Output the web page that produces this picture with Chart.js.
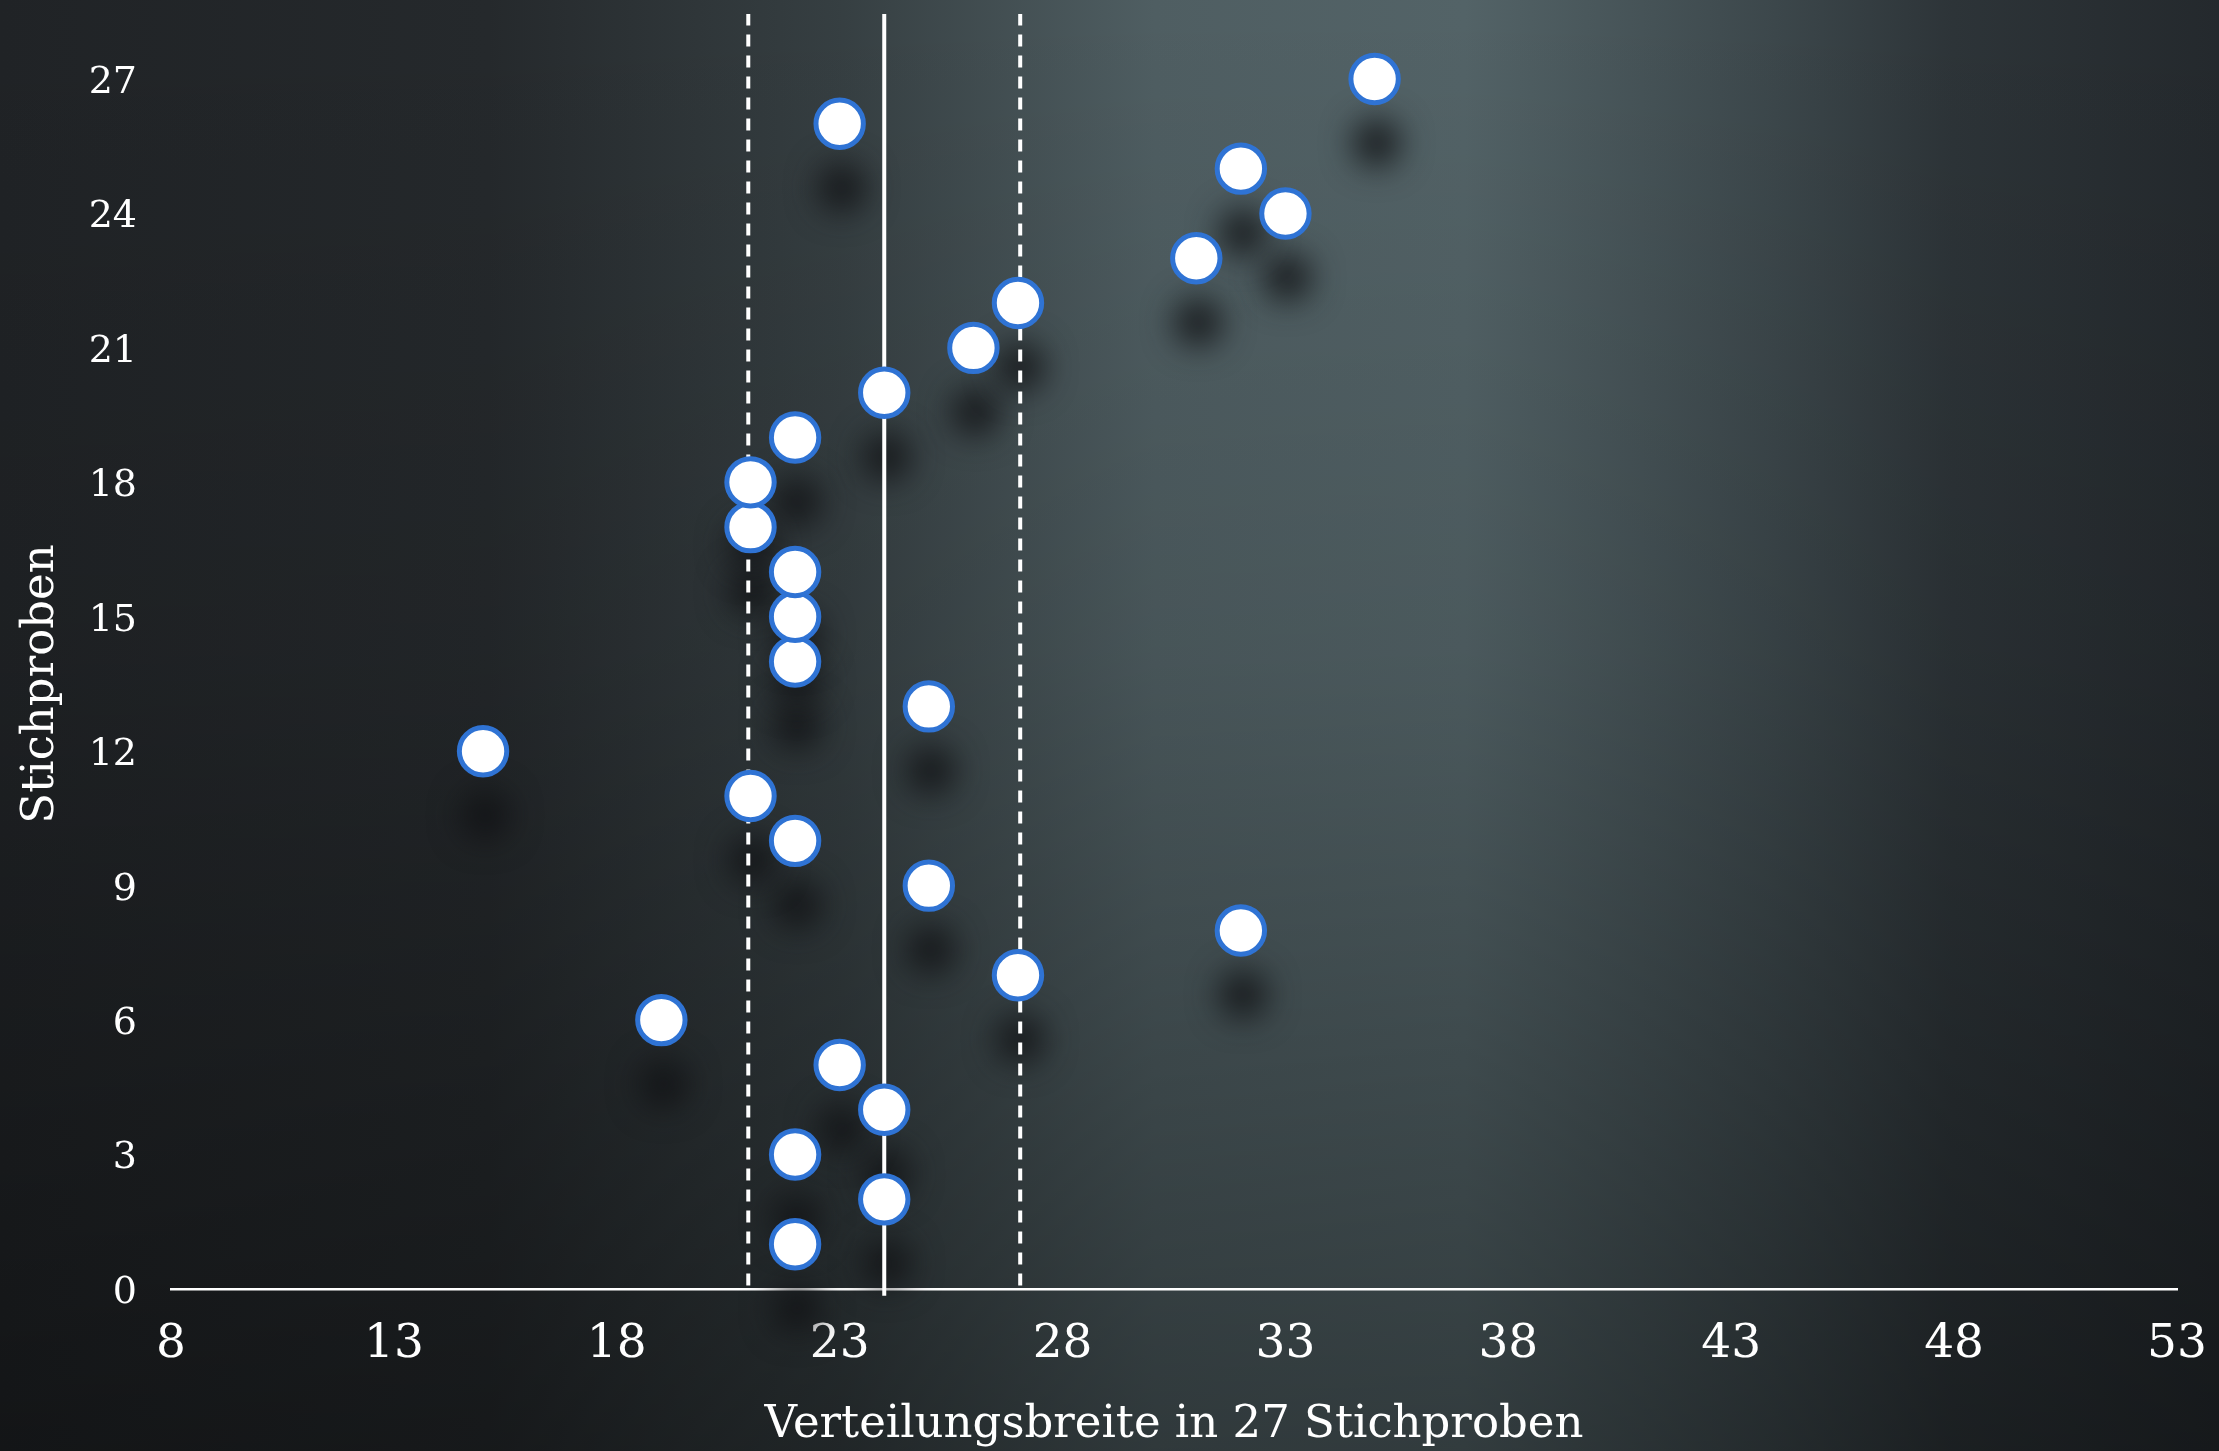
<!DOCTYPE html>
<html lang="de">
<head>
<meta charset="utf-8">
<title>Verteilungsbreite in 27 Stichproben</title>
<script src="https://cdn.jsdelivr.net/npm/chart.js@4.4.1/dist/chart.umd.min.js"></script>
<style>
    html, body { margin: 0; padding: 0; background: #24282b; }
    #wrap { width: 2219px; height: 1451px; }
</style>
</head>
<body>
<div id="wrap"><canvas id="chart" width="2219" height="1451"></canvas></div>
<script>
/* Daten: Verteilungsbreite je Stichprobe */
const samples = [1, 2, 3, 4, 5, 6, 7, 8, 9, 10, 11, 12, 13, 14, 15, 16, 17, 18, 19, 20, 21, 22, 23, 24, 25, 26, 27];
const widths  = [22, 24, 22, 24, 23, 19, 27, 32, 25, 22, 21, 15, 25, 22, 22, 22, 21, 21, 22, 24, 26, 27, 31, 33, 32, 23, 35];

const meanValue = 24;
const bandLow = 20.95;
const bandHigh = 27.05;
const lineTop = 28.45;      // Linien reichen über den letzten Tick hinaus
const meanBottom = -0.15;   // Mittelwertlinie ragt leicht unter die Achse

const xTicks = [8, 13, 18, 23, 28, 33, 38, 43, 48, 53];
const yTicks = [0, 3, 6, 9, 12, 15, 18, 21, 24, 27];

const FONT = "'DejaVu Serif', 'Liberation Serif', serif";

/** Hintergrund: dunkle Fläche mit hellem Lichtfleck in der Mitte */
const backdrop = {
    id: 'backdrop',
    beforeDraw(chart) {
        const { ctx, width, height } = chart;
        ctx.save();
        const h = ctx.createLinearGradient(0, 0, width, 0);
        h.addColorStop(0.00, '#202326');
        h.addColorStop(0.22, '#25292c');
        h.addColorStop(0.38, '#363f42');
        h.addColorStop(0.52, '#4f5e62');
        h.addColorStop(0.66, '#536367');
        h.addColorStop(0.80, '#3c474b');
        h.addColorStop(0.88, '#2d3438');
        h.addColorStop(1.00, '#24292d');
        ctx.fillStyle = h;
        ctx.fillRect(0, 0, width, height);
        const v = ctx.createLinearGradient(0, 0, 0, height);
        v.addColorStop(0.00, 'rgba(0,0,0,0)');
        v.addColorStop(0.45, 'rgba(0,0,0,0.1)');
        v.addColorStop(1.00, 'rgba(0,0,0,0.4)');
        ctx.fillStyle = v;
        ctx.fillRect(0, 0, width, height);
        ctx.restore();
    }
};

/** Weiche Schatten unter den Punkten */
const pointShadows = {
    id: 'pointShadows',
    beforeDatasetsDraw(chart) {
        const meta = chart.getDatasetMeta(0);
        const { ctx } = chart;
        ctx.save();
        ctx.filter = 'blur(16px)';
        ctx.fillStyle = 'rgba(16,18,20,0.85)';
        meta.data.forEach(pt => {
            ctx.beginPath();
            ctx.arc(pt.x + 2, pt.y + 64, 24, 0, Math.PI * 2);
            ctx.fill();
        });
        ctx.restore();
    }
};

function vline(x, y0, y1, dash) {
    return {
        type: 'line',
        data: [{ x, y: y0 }, { x, y: y1 }],
        borderColor: '#ffffff',
        borderWidth: 4,
        borderDash: dash,
        pointRadius: 0,
        clip: false,
        order: 1
    };
}

new Chart(document.getElementById('chart').getContext('2d'), {
    type: 'scatter',
    data: {
        datasets: [
            {
                data: samples.map((s, i) => ({ x: widths[i], y: s })),
                backgroundColor: '#ffffff',
                borderColor: '#2f73d4',
                borderWidth: 5,
                pointRadius: 23.7,
                clip: false,
                order: 0
            },
            vline(meanValue, meanBottom, lineTop, []),
            vline(bandLow, 0.08, lineTop, [12, 9]),
            vline(bandHigh, 0.08, lineTop, [12, 9])
        ]
    },
    options: {
        responsive: false,
        animation: false,
        layout: { padding: { top: 79, right: 42, left: 0, bottom: 0 } },
        plugins: {
            legend: { display: false },
            tooltip: { enabled: false }
        },
        scales: {
            x: {
                type: 'linear',
                min: 8,
                max: 53,
                afterBuildTicks: s => { s.ticks = xTicks.map(v => ({ value: v })); },
                afterFit: s => { s.height = 162; s.paddingLeft = 0; s.paddingRight = 0; },
                ticks: { color: '#ffffff', font: { family: FONT, size: 47 }, padding: 28, maxRotation: 0 },
                grid: { display: false, drawTicks: false },
                border: { display: true, color: '#ffffff', width: 2.5 },
                title: {
                    display: true,
                    text: 'Verteilungsbreite in 27 Stichproben',
                    color: '#ffffff',
                    font: { family: FONT, size: 45 },
                    padding: { top: 0, bottom: -1 }
                }
            },
            y: {
                type: 'linear',
                min: 0,
                max: 27,
                afterBuildTicks: s => { s.ticks = yTicks.map(v => ({ value: v })); },
                afterFit: s => { s.width = 171; },
                ticks: { color: '#ffffff', font: { family: FONT, size: 38 }, padding: 34, labelOffset: 4 },
                grid: { display: false, drawTicks: false },
                border: { display: false },
                title: {
                    display: true,
                    text: 'Stichproben',
                    color: '#ffffff',
                    font: { family: FONT, size: 45 },
                    padding: { top: 14, bottom: 0 }
                }
            }
        }
    },
    plugins: [backdrop, pointShadows]
});
</script>
</body>
</html>
